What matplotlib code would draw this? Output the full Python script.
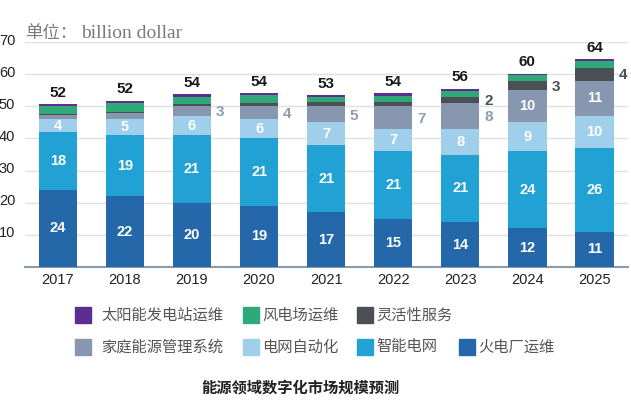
import numpy as np
import matplotlib.pyplot as plt
import matplotlib.transforms as mtrans
from matplotlib.patches import Rectangle

plt.rcParams['font.family'] = ['Liberation Sans', 'Noto Sans CJK SC', 'DejaVu Sans']

# 数据 (单位: billion dollar)
years = ['2017', '2018', '2019', '2020', '2021', '2022', '2023', '2024', '2025']
fire = [24, 22, 20, 19, 17, 15, 14, 12, 11]        # 火电厂运维
grid = [18, 19, 21, 21, 21, 21, 21, 24, 26]        # 智能电网
auto = [4, 5, 6, 6, 7, 7, 8, 9, 10]                # 电网自动化
home = [1.2, 1.8, 3, 4, 5, 7, 8, 10, 11]           # 家庭能源管理系统
flex = [0.5, 0.5, 0.6, 1.0, 1.3, 1.3, 2, 3, 4]     # 灵活性服务
wind = [2.3, 2.6, 2.3, 2.4, 1.5, 1.9, 1.8, 1.6, 2.1]  # 风电场运维
solar = [0.8, 0.9, 1.0, 0.6, 0.6, 0.8, 0.7, 0.6, 0.6]  # 太阳能发电站运维
totals = [52, 52, 54, 54, 53, 54, 56, 60, 64]

home_lbl_out = [False, False, True, True, True, True, True, False, False]
home_lbl_in = [False, False, False, False, False, False, False, True, True]
flex_lbl = [False, False, False, False, False, False, True, True, True]

names = ['太阳能发电站运维', '风电场运维', '灵活性服务',
         '家庭能源管理系统', '电网自动化', '智能电网', '火电厂运维']
colors = {'fire': '#2468a9', 'grid': '#21a1d4', 'auto': '#9fcfea',
          'home': '#8797b0', 'flex': '#4b5056', 'wind': '#2ea977', 'solar': '#5b2e90'}

fig = plt.figure(figsize=(6.31, 4.07), dpi=100)
ax = fig.add_axes([25/631, 1-267/407, 603/631, 225/407])

x = np.arange(len(years))
w = 0.57
series = [('fire', fire), ('grid', grid), ('auto', auto), ('home', home),
          ('flex', flex), ('wind', wind), ('solar', solar)]
bottom = np.zeros(len(years))
bars = {}
for key, vals in series:
    bars[key] = ax.bar(x, vals, w, bottom=bottom, color=colors[key], zorder=3)
    bottom = bottom + np.array(vals)

# 柱内标签
def inner(key, vals, show=None):
    for i, r in enumerate(bars[key]):
        if show is not None and not show[i]:
            continue
        ax.text(r.get_x() + r.get_width()/2, r.get_y() + r.get_height()/2,
                str(int(vals[i])), ha='center', va='center', color='white',
                fontsize=10.5, fontweight='bold', zorder=4)

inner('fire', fire)
inner('grid', grid)
inner('auto', auto)
inner('home', home, home_lbl_in)

# 柱外标签
def outer(key, vals, show, col):
    for i, r in enumerate(bars[key]):
        if not show[i]:
            continue
        ax.text(r.get_x() + r.get_width() + 0.07, r.get_y() + r.get_height()/2 - 0.4,
                str(int(vals[i])), ha='left', va='center', color=col,
                fontsize=11, fontweight='bold', zorder=4)

outer('home', home, home_lbl_out, '#8d9cb3')
outer('flex', flex, flex_lbl, '#4b5056')

for i in range(len(years)):
    ax.annotate(str(totals[i]), (x[i], bottom[i]), xytext=(0, 3), textcoords='offset points',
                ha='center', va='bottom', fontsize=11, fontweight='bold', color='#1a1a1a')

ax.set_xlim(-0.49, 8.5)
ax.set_ylim(0, 70)
ax.set_yticks([10, 20, 30, 40, 50, 60, 70])
ax.set_xticks(x)
ax.set_xticklabels(years)
ax.tick_params(axis='both', length=0, labelsize=10.5, colors='#222222')
ax.tick_params(axis='y', pad=7)
ax.tick_params(axis='x', pad=4)
off = mtrans.ScaledTranslation(0, 3/100, fig.dpi_scale_trans)
for lbl in ax.get_yticklabels():
    lbl.set_transform(lbl.get_transform() + off)
ax.grid(axis='y', color='#e0e0e0', lw=1, zorder=0)
for s in ['top', 'right', 'left']:
    ax.spines[s].set_visible(False)
ax.spines['bottom'].set_color('#8a9ab0')
ax.spines['bottom'].set_linewidth(1.5)

fig.text(25/631, 1-33/407, '单位：', fontsize=12.5, color='#7a7a7a', va='center',
         family=['Noto Sans CJK SC'])
fig.text(81/631, 1-33/407, 'billion dollar', fontsize=14, color='#7a7a7a', va='center',
         family=['Liberation Serif'])

# 图例
sq = 16
leg = [(names[0], colors['solar'], 75, 315, 101),
       (names[1], colors['wind'], 243, 315, 262),
       (names[2], colors['flex'], 357, 315, 376),
       (names[3], colors['home'], 75, 347, 101),
       (names[4], colors['auto'], 243, 347, 262),
       (names[5], colors['grid'], 357, 347, 376),
       (names[6], colors['fire'], 459, 347, 478)]
for name, c, px, py, tx in leg:
    fig.add_artist(Rectangle((px/631, 1-(py+sq/2)/407), sq/631, sq/407,
                             transform=fig.transFigure, color=c))
    fig.text(tx/631, 1-py/407, name, fontsize=11, color='#555555', va='center',
             family=['Noto Sans CJK SC'])

fig.text(300/631, 1-388/407, '能源领域数字化市场规模预测', fontsize=11, fontweight='bold',
         color='#222222', ha='center', va='center', family=['Noto Sans CJK SC'])

fig.savefig('out.png', dpi=100, facecolor='white')
